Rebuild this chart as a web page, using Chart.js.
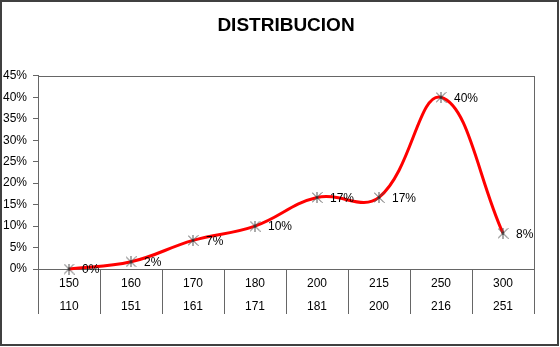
<html>
<head>
<style>
  html, body { margin: 0; padding: 0; background: #fff; }
  #wrap { width: 560px; height: 347px; }
</style>
<script src="https://cdn.jsdelivr.net/npm/chart.js"></script>
</head>
<body>
<div id="wrap"><canvas id="distChart" width="560" height="347"></canvas></div>

<script type="text/javascript">
// percentage per range (each = count out of 60)
var upper = ["150", "160", "170", "180", "200", "215", "250", "300"];
var lower = ["110", "151", "161", "171", "181", "200", "216", "251"];
var pct = [0, 1.67, 6.67, 10, 16.67, 16.67, 40, 8.33];
var yTicks = [0, 5, 10, 15, 20, 25, 30, 35, 40, 45];

var FONT = "'Liberation Sans', Arial, sans-serif";

// two line category labels: upper bound over lower bound
var labels = [];
for (var i = 0; i < upper.length; i++) {
  labels.push([upper[i], lower[i]]);
}

// asterisk marker (x plus vertical bar)
function starMarker() {
  var c = document.createElement("canvas");
  c.width = 11; c.height = 11;
  var g = c.getContext("2d");
  g.strokeStyle = "#555";
  g.lineWidth = 1;
  g.beginPath();
  g.moveTo(0.5, 0.5); g.lineTo(10.5, 10.5);
  g.moveTo(10.5, 0.5); g.lineTo(0.5, 10.5);
  g.moveTo(5.5, 0); g.lineTo(5.5, 11);
  g.stroke();
  g.fillStyle = "#222";
  g.fillRect(4.5, 4.5, 2, 2);
  return c;
}

// outer chart frame + plot area box
var frame = {
  id: "frame",
  beforeDatasetsDraw: function (chart) {
    var a = chart.chartArea;
    var ctx = chart.ctx;
    ctx.save();
    ctx.strokeStyle = "#666";
    ctx.lineWidth = 1;
    ctx.strokeRect(Math.round(a.left) + 0.5, Math.round(a.top) + 0.5,
                   Math.round(a.right - a.left), Math.round(a.bottom - a.top));
    ctx.restore();
  },
  afterDraw: function (chart) {
    var ctx = chart.ctx;
    ctx.save();
    ctx.strokeStyle = "#404040";
    ctx.lineWidth = 2;
    ctx.strokeRect(1, 1, chart.width - 3, chart.height - 3);
    ctx.restore();
  }
};

var valueLabels = {
  id: "valueLabels",
  afterDatasetsDraw: function (chart) {
    var ctx = chart.ctx;
    var meta = chart.getDatasetMeta(0);
    ctx.save();
    ctx.font = "12px " + FONT;
    ctx.fillStyle = "#000";
    ctx.textAlign = "left";
    ctx.textBaseline = "middle";
    meta.data.forEach(function (pt, i) {
      ctx.fillText(Math.round(pct[i]) + "%", pt.x + 13, pt.y + 1);
    });
    ctx.restore();
  }
};

function init() {
  var ctx = document.getElementById("distChart");
  new Chart(ctx, {
    type: "line",
    data: {
      labels: labels,
      datasets: [{
        data: pct,
        borderColor: "#ff0000",
        borderWidth: 3,
        tension: 0.4,
        fill: false,
        pointStyle: starMarker(),
        pointRadius: 5,
        clip: false
      }]
    },
    options: {
      responsive: false,
      animation: false,
      events: [],
      layout: { padding: { left: 0, right: 26, top: 0, bottom: 0 } },
      plugins: {
        legend: { display: false },
        tooltip: { enabled: false },
        title: {
          display: true,
          fullSize: false,
          text: "DISTRIBUCION",
          color: "#000",
          font: { family: FONT, size: 19, weight: "bold", lineHeight: 1.2 },
          padding: { top: 14, bottom: 39 }
        }
      },
      scales: {
        x: {
          type: "category",
          offset: true,
          grid: {
            offset: true,
            drawOnChartArea: false,
            tickLength: 45,
            color: "#666"
          },
          border: { color: "#666" },
          ticks: {
            maxRotation: 0,
            autoSkip: false,
            padding: -42,
            color: "#000",
            font: { family: FONT, size: 12, lineHeight: 1.92 }
          },
          afterFit: function (scale) { scale.height = 78; }
        },
        y: {
          min: 0,
          max: 45,
          afterBuildTicks: function (scale) {
            scale.ticks = yTicks.map(function (v) { return { value: v }; });
          },
          grid: {
            drawOnChartArea: false,
            tickLength: 5,
            color: "#666"
          },
          border: { color: "#666" },
          ticks: {
            padding: 6,
            color: "#000",
            font: { family: FONT, size: 12 },
            callback: function (v) { return v + "%"; }
          },
          afterFit: function (scale) { scale.width = 38; }
        }
      }
    },
    plugins: [valueLabels, frame]
  });
}
init();
</script>
</body>
</html>
